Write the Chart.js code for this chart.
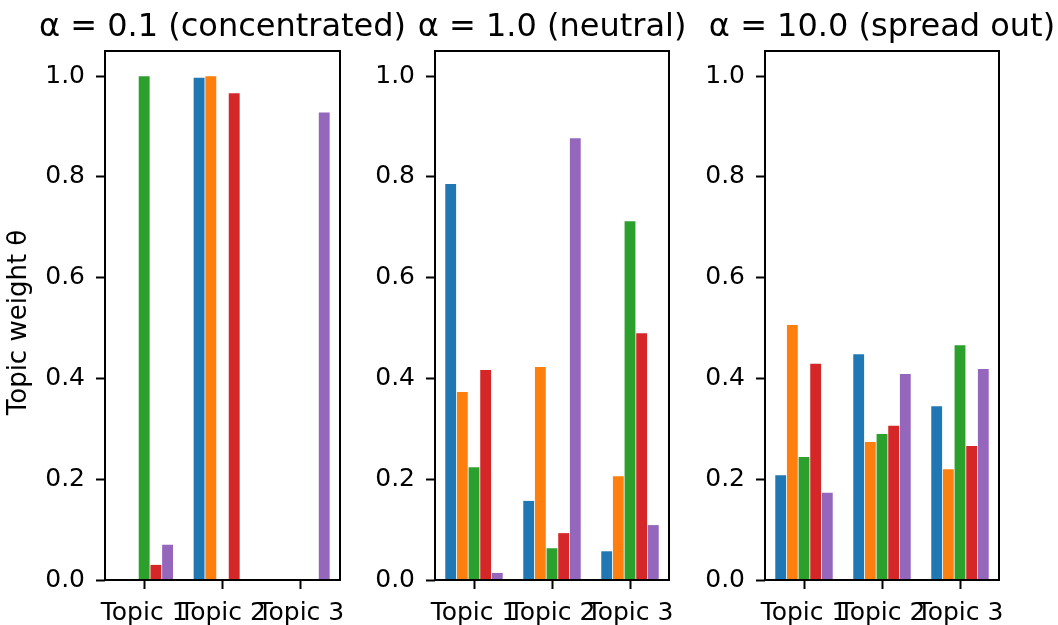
<!DOCTYPE html>
<html>
<head>
<meta charset="utf-8">
<script src="https://cdn.jsdelivr.net/npm/chart.js@4"></script>
<style>
  html, body { margin: 0; padding: 0; background: #ffffff; }
  #wrap { position: relative; width: 1058px; height: 625px; overflow: hidden; background: #ffffff; }
  #wrap canvas { position: absolute; left: 0; top: 0; }
</style>
</head>
<body>
<div id="wrap">
  <canvas id="c0" width="1058" height="625"></canvas>
  <canvas id="c1" width="1058" height="625"></canvas>
  <canvas id="c2" width="1058" height="625"></canvas>
</div>
<script>
// ---------- data ----------
const topics = ["Topic 1", "Topic 2", "Topic 3"];
const seriesNames = ["Document 1", "Document 2", "Document 3", "Document 4", "Document 5"];
const seriesColors = ["#1f77b4", "#ff7f0e", "#2ca02c", "#d62728", "#9467bd"];
const panelTitles = ["α = 0.1 (concentrated)", "α = 1.0 (neutral)", "α = 10.0 (spread out)"];
const yTicks = [0.0, 0.2, 0.4, 0.6, 0.8, 1.0];
const yLabel = "Topic weight θ";

// each row: one document's weights over Topic 1..3
const alphaConcentrated = [
  [0.000, 0.997, 0.000],
  [0.000, 1.000, 0.000],
  [1.000, 0.000, 0.000],
  [0.030, 0.966, 0.000],
  [0.070, 0.000, 0.928]
];
const alphaNeutral = [
  [0.786, 0.157, 0.057],
  [0.373, 0.423, 0.206],
  [0.224, 0.063, 0.712],
  [0.417, 0.093, 0.490],
  [0.014, 0.877, 0.109]
];
const alphaSpread = [
  [0.208, 0.448, 0.345],
  [0.506, 0.274, 0.220],
  [0.244, 0.290, 0.466],
  [0.429, 0.306, 0.266],
  [0.173, 0.409, 0.419]
];
const panels = [alphaConcentrated, alphaNeutral, alphaSpread];

// ---------- layout ----------
const W = 1058, H = 625;
const axLeft = [105, 435, 765];
const axRight = [340, 669, 999];
const axTop = 51;
const axBottomH = 45;
const titleGap = 15;
const FONT = "'DejaVu Sans', 'Liberation Sans', sans-serif";

const framePlugin = {
  id: 'frame',
  afterDraw(chart) {
    const a = chart.chartArea, ctx = chart.ctx;
    const o = chart.options.plugins.panelText || {};
    ctx.save();
    ctx.strokeStyle = '#000';
    ctx.lineWidth = 2;
    ctx.strokeRect(a.left, a.top, a.right - a.left, a.bottom - a.top);
    ctx.fillStyle = '#000';
    // panel title centred over the axes box
    if (o.title) {
      ctx.font = '32px ' + FONT;
      ctx.textAlign = 'center';
      ctx.textBaseline = 'alphabetic';
      ctx.fillText(o.title, (a.left + a.right) / 2, a.top - titleGap);
    }
    // y-axis label
    if (o.ylabel) {
      ctx.save();
      ctx.translate(26, (a.top + a.bottom) / 2 + 7);
      ctx.rotate(-Math.PI / 2);
      ctx.font = '26px ' + FONT;
      ctx.textAlign = 'center';
      ctx.textBaseline = 'alphabetic';
      ctx.fillText(o.ylabel, 0, 0);
      ctx.restore();
    }
    ctx.restore();
  }
};

panels.forEach((rows, p) => {
  const datasets = rows.map((vals, i) => ({
    label: seriesNames[i],
    data: vals,
    backgroundColor: seriesColors[i],
    borderWidth: 0,
    barPercentage: 0.93,
    categoryPercentage: 0.747
  }));
  new Chart(document.getElementById('c' + p), {
    type: 'bar',
    data: { labels: topics, datasets },
    plugins: [framePlugin],
    options: {
      responsive: false,
      animation: false,
      devicePixelRatio: 1,
      layout: { padding: { left: 0, right: W - axRight[p], top: axTop, bottom: 0 } },
      plugins: {
        legend: { display: false },
        tooltip: { enabled: false },
        title: { display: false },
        panelText: { title: panelTitles[p], ylabel: p === 0 ? yLabel : '' }
      },
      scales: {
        x: {
          type: 'category',
          offset: true,
          grid: { display: true, drawOnChartArea: false, offset: false, color: '#000', tickLength: 9, tickWidth: 2, tickColor: '#000' },
          border: { display: false },
          ticks: { color: '#000', autoSkip: false, maxRotation: 0, minRotation: 0, padding: 9, font: { family: FONT, size: 25 } },
          afterFit(scale) { scale.height = axBottomH; }
        },
        y: {
          type: 'linear',
          min: 0,
          max: 1.05,
          grid: { display: true, drawOnChartArea: false, color: '#000', tickLength: 9, tickWidth: 2, tickColor: '#000' },
          border: { display: false },
          ticks: { color: '#000', padding: 11, font: { family: FONT, size: 25 }, callback: v => Number(v).toFixed(1) },
          afterBuildTicks(scale) { scale.ticks = yTicks.map(v => ({ value: v })); },
          title: { display: false, text: yLabel },
          afterFit(scale) { scale.width = axLeft[p]; }
        }
      }
    }
  });
});
</script>
</body>
</html>
